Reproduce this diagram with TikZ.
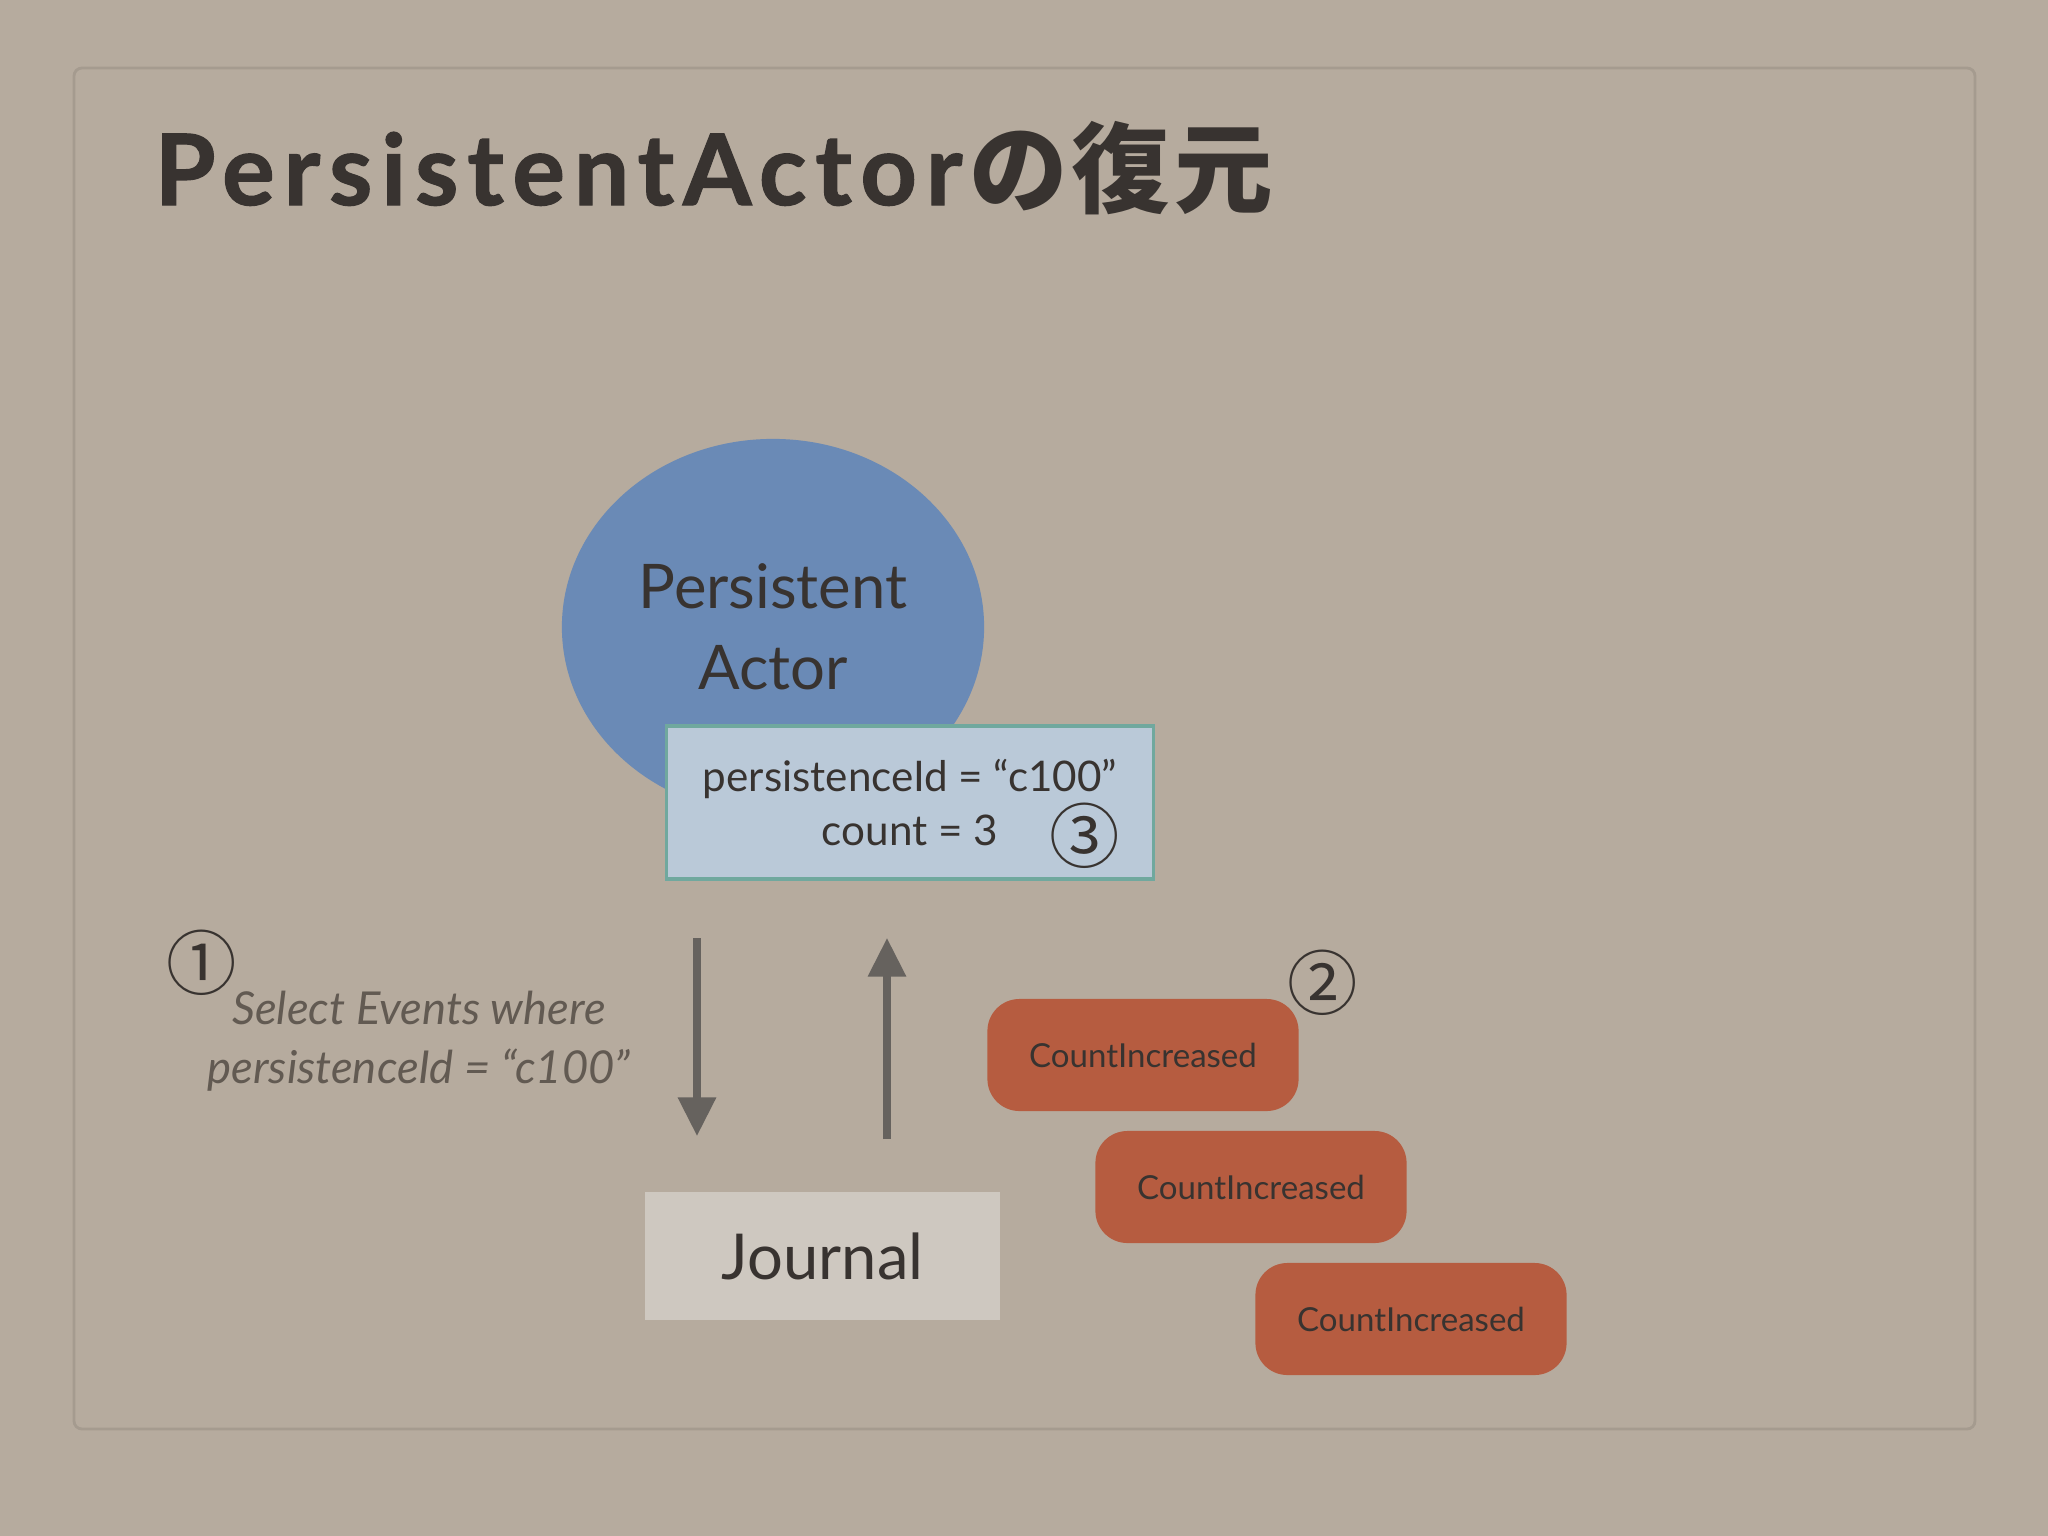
\documentclass[tikz,border=0pt]{standalone}
\usepackage{fontspec}
\setmainfont{Lato}
\newfontfamily\titlefont{Lato}[LetterSpace=9, FakeBold=1.2]
\newfontfamily\cjktitle{Noto Sans CJK JP}[LetterSpace=4]
\newfontfamily\cjkfont{Noto Sans CJK JP}
\usetikzlibrary{arrows.meta, shapes.geometric}

\definecolor{paper}{RGB}{182,171,158}
\definecolor{panelline}{RGB}{165,155,143}
\definecolor{ink}{RGB}{56,51,48}
\definecolor{softink}{RGB}{98,90,82}
\definecolor{actorblue}{RGB}{106,138,182}
\definecolor{statefill}{RGB}{186,201,216}
\definecolor{stateline}{RGB}{112,168,158}
\definecolor{journalfill}{RGB}{206,200,192}
\definecolor{eventred}{RGB}{182,92,64}
\definecolor{arrowgray}{RGB}{102,98,94}

\begin{document}
\begin{tikzpicture}[x=0.01cm, y=-0.01cm,
    actor/.style={ellipse, fill=actorblue, minimum width=4.22cm, minimum height=3.76cm,
        inner sep=0pt, align=center, text=ink, font=\fontsize{17.5}{23}\selectfont},
    state/.style={rectangle, fill=statefill, draw=stateline, line width=1pt,
        minimum width=4.87cm, minimum height=1.53cm, align=center, text=ink,
        font=\fontsize{12}{15.6}\selectfont},
    journal/.style={rectangle, fill=journalfill, minimum width=3.55cm, minimum height=1.28cm,
        text=ink, font=\fontsize{18}{22}\selectfont},
    event/.style={rectangle, rounded corners=0.32cm, fill=eventred, minimum width=3.11cm,
        minimum height=1.12cm, text=ink, font=\fontsize{9.4}{11}\selectfont},
    stepno/.style={text=ink, inner sep=0pt, font=\cjkfont\fontsize{20}{20}\selectfont},
    flow/.style={draw=arrowgray, line width=2pt, -{Triangle[width=10.5pt, length=11pt]}}]

    % paper and panel
    \fill[paper] (0,0) rectangle (2048,1536);
    \useasboundingbox (0,0) rectangle (2048,1536);
    \draw[panelline, line width=0.8pt, rounded corners=0.08cm] (74,68) rectangle (1975,1429);

    % title
    \node[anchor=base west, inner sep=0pt, text=ink] (title) at (154,205)
        {\titlefont\bfseries\fontsize{28}{30}\selectfont PersistentActor\hspace{2pt}\cjktitle\bfseries の復元};

    % actor and its state
    \node[actor] (actor) at (773,627) {Persistent\\Actor};
    \node[state] (state) at (910,802.5) {persistenceId = “c100”\\count = 3};
    \node[stepno] (three) at (1085,836) {③};

    % journal
    \node[journal] (journal) at (822.5,1256) {Journal};

    % query
    \node[stepno] (one) at (202,963) {①};
    \node[text=softink, align=center, font=\itshape\fontsize{12.9}{16.8}\selectfont] (query)
        at (419,1041) {Select Events where\\persistenceId = “c100”};

    \coordinate (qtop) at (697,938);
    \coordinate (qend) at (697,1136);
    \coordinate (rbot) at (887,1139);
    \coordinate (rtop) at (887,938);
    \draw[flow] (qtop) -- (qend);
    \draw[flow] (rbot) -- (rtop);

    % replayed events
    \node[stepno] (two) at (1323,983) {②};
    \node[event] (ev1) at (1143,1055) {CountIncreased};
    \node[event] (ev2) at (1251,1187) {CountIncreased};
    \node[event] (ev3) at (1411,1319) {CountIncreased};

\end{tikzpicture}
\end{document}
